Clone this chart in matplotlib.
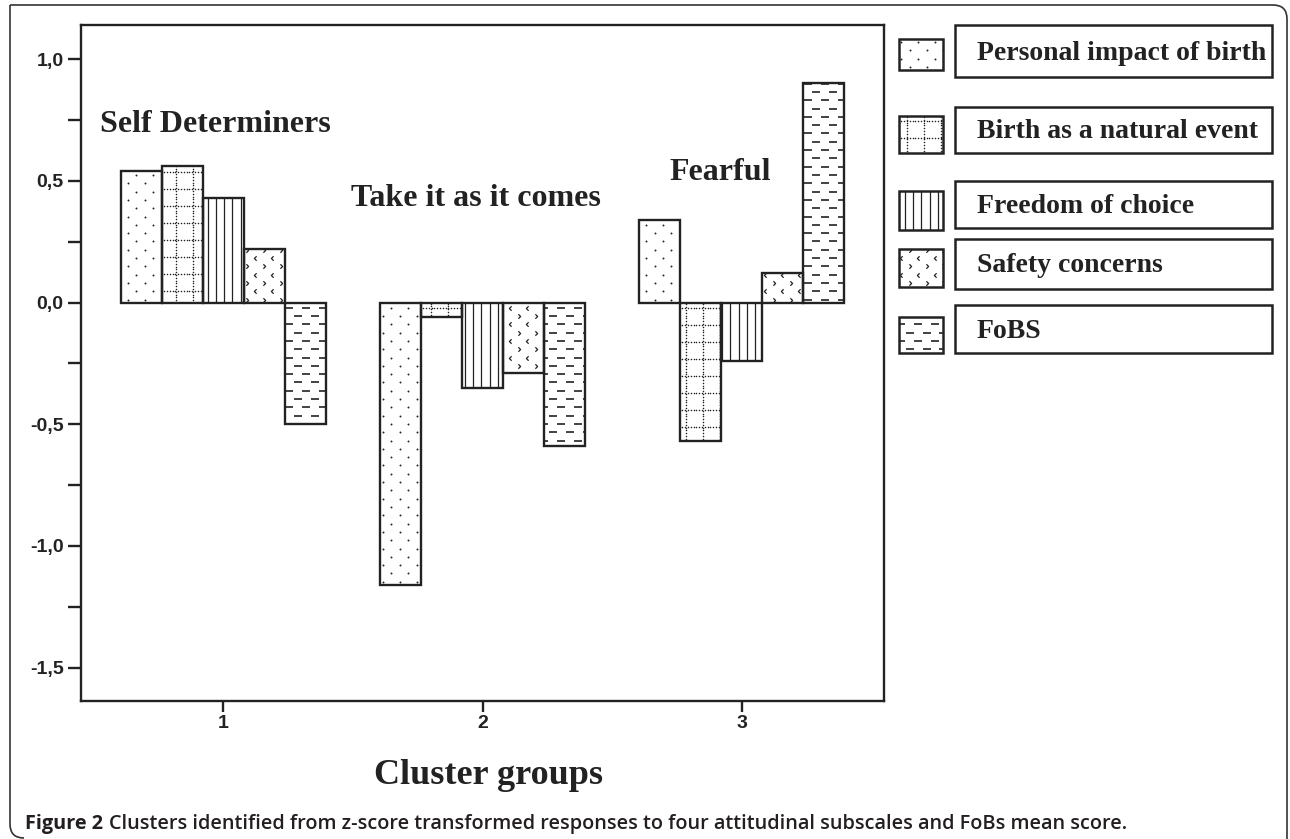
import numpy as np
import matplotlib
matplotlib.use("Agg")
import matplotlib.pyplot as plt
from matplotlib.patches import Rectangle, PathPatch
from matplotlib.path import Path
from matplotlib.lines import Line2D
from matplotlib.collections import LineCollection
from matplotlib.ticker import FixedLocator, MultipleLocator, FuncFormatter

# data
clusters = [1, 2, 3]
cluster_names = ["Self Determiners", "Take it as it comes", "Fearful"]
series = ["Personal impact of birth", "Birth as a natural event",
          "Freedom of choice", "Safety concerns", "FoBS"]
personal = [0.54, -1.16, 0.34]
natural = [0.56, -0.06, -0.57]
freedom = [0.43, -0.35, -0.24]
safety = [0.22, -0.29, 0.12]
fobs = [-0.50, -0.59, 0.90]
values = [personal, natural, freedom, safety, fobs]
textures = ["dots", "dotgrid", "vlines", "chevrons", "dashes"]

caption_bold = "Figure 2"
caption_rest = ("Clusters identified from z-score transformed responses to four "
                "attitudinal subscales and FoBs mean score.")

W, H = 1290, 839
INK = "#222222"
SERIF = "Liberation Serif"
SANS = "Liberation Sans"

fig = plt.figure(figsize=(W / 100, H / 100), dpi=100)
fig.patch.set_facecolor("white")


def fx(x):
    return x / W


def fy(y):
    # image pixel row -> figure fraction
    return 1 - y / H


ax = fig.add_axes([fx(81), fy(701), fx(884 - 81), (701 - 25) / H])
ax.set_xlim(0.45, 3.55)
ax.set_ylim(-1.637, 1.14)
ax.set_autoscale_on(False)

# chevron markers
LT = Path([(0.5, 1), (-0.5, 0), (0.5, -1)], [Path.MOVETO, Path.LINETO, Path.LINETO])
GT = Path([(-0.5, 1), (0.5, 0), (-0.5, -1)], [Path.MOVETO, Path.LINETO, Path.LINETO])


def add_texture(target, patch, kind):
    # fill the patch with a pixel-aligned pattern, clipped to the patch
    bb = patch.get_window_extent()
    x0, x1, y0, y1 = bb.x0 - 20, bb.x1 + 20, bb.y0 - 20, bb.y1 + 20
    dx, dy = 17.0, 8.3
    arts = []
    if kind in ("dots", "chevrons", "dashes"):
        rows = np.arange(np.floor(y0 / dy), np.ceil(y1 / dy) + 1)
        for j in rows:
            xs = np.arange(np.floor(x0 / dx), np.ceil(x1 / dx) + 1) * dx + (j % 2) * dx / 2
            ys = np.full_like(xs, j * dy)
            if kind == "dots":
                kw = dict(marker="o", ms=1.4, mfc=INK, mec="none")
            elif kind == "dashes":
                kw = dict(marker="_", ms=5.5, mew=1.2, mec=INK)
            else:
                kw = dict(marker=LT if j % 2 == 0 else GT, ms=3.2, mew=0.9,
                          mec=INK, mfc="none")
            arts.append(Line2D(xs / W, ys / H, ls="none", transform=fig.transFigure, **kw))
    elif kind == "dotgrid":
        g = 17.0
        step = 2.8
        xs_l = np.arange(np.floor(x0 / g), np.ceil(x1 / g) + 1) * g + 6
        ys_l = np.arange(np.floor(y0 / g), np.ceil(y1 / g) + 1) * g + 4
        pts = []
        for xv in xs_l:
            yy = np.arange(y0, y1, step)
            pts.append(np.column_stack([np.full_like(yy, xv), yy]))
        for yv in ys_l:
            xx = np.arange(x0, x1, step)
            pts.append(np.column_stack([xx, np.full_like(xx, yv)]))
        pts = np.vstack(pts)
        arts.append(Line2D(pts[:, 0] / W, pts[:, 1] / H, ls="none", marker="o", ms=1.1,
                           mfc=INK, mec="none", transform=fig.transFigure))
    elif kind == "vlines":
        sp = 8.3
        xs = np.arange(np.floor(x0 / sp), np.ceil(x1 / sp) + 1) * sp
        segs = [[(xv / W, y0 / H), (xv / W, y1 / H)] for xv in xs]
        arts.append(LineCollection(segs, colors=INK, linewidths=0.9,
                                   transform=fig.transFigure))
    for a in arts:
        a.set_zorder(1.5)
        if target is fig:
            fig.add_artist(a)
        elif isinstance(a, LineCollection):
            target.add_collection(a)
        else:
            target.add_line(a)
        a.set_clip_path(patch)


width = 0.1586
x = np.array(clusters, dtype=float)
for i, (vals, kind) in enumerate(zip(values, textures)):
    pos = x + (i - 2) * width
    fills = ax.bar(pos, vals, width, color="white", edgecolor="none", zorder=1)
    for p in fills.patches:
        add_texture(ax, p, kind)
    ax.bar(pos, vals, width, facecolor="none", edgecolor=INK, linewidth=1.7, zorder=2)

# cluster names
name_pos = [(0.97, 0.70), (1.975, 0.395), (2.916, 0.503)]
for name, (tx, ty) in zip(cluster_names, name_pos):
    ax.text(tx, ty, name, ha="center", va="baseline", fontsize=23,
            fontweight="bold", family=SERIF, color=INK)

# axes styling
for s in ax.spines.values():
    s.set_linewidth(1.7)
    s.set_color(INK)
ax.yaxis.set_major_locator(MultipleLocator(0.5))
ax.yaxis.set_minor_locator(MultipleLocator(0.25))
ax.yaxis.set_major_formatter(FuncFormatter(lambda v, p: f"{v:.1f}".replace(".", ",")))
ax.xaxis.set_major_locator(FixedLocator(clusters))
ax.set_xticklabels([str(c) for c in clusters])
ax.tick_params(axis="y", which="both", direction="out", length=9.5, width=1.7, color=INK, pad=3)
ax.tick_params(axis="x", which="both", direction="out", length=8, width=1.7, color=INK, pad=2)
ax.xaxis.set_minor_locator(FixedLocator([]))
for lab in ax.get_xticklabels() + ax.get_yticklabels():
    lab.set_fontfamily(SANS)
    lab.set_fontweight("bold")
    lab.set_fontsize(14)
    lab.set_color(INK)

fig.text(fx(488), fy(776), "Cluster groups", ha="center", va="center",
         fontsize=26, fontweight="bold", family=SERIF, color=INK)

# legend: swatch box + framed label box per series
sw_rows = [(39, 70), (116, 153), (191, 230), (249, 287), (317, 353)]
lb_rows = [(25, 77), (107, 153), (181, 228), (239, 289), (305, 353)]
for name, kind, (st, sb), (lt, lb) in zip(series, textures, sw_rows, lb_rows):
    sw = Rectangle((fx(899), fy(sb)), fx(943 - 899), (sb - st) / H,
                   transform=fig.transFigure, facecolor="white", edgecolor="none", zorder=1)
    fig.add_artist(sw)
    add_texture(fig, sw, kind)
    fig.add_artist(Rectangle((fx(899), fy(sb)), fx(943 - 899), (sb - st) / H,
                             transform=fig.transFigure, facecolor="none", edgecolor=INK,
                             linewidth=1.8, zorder=2))
    fig.add_artist(Rectangle((fx(955), fy(lb)), fx(1272 - 955), (lb - lt) / H,
                             transform=fig.transFigure, facecolor="none", edgecolor=INK,
                             linewidth=1.8, zorder=2))
    fig.text(fx(977), fy((lt + lb) / 2 + 2), name, ha="left", va="center", fontsize=20,
             fontweight="bold", family=SERIF, color=INK)

# outer frame with rounded top-right and bottom-left corners
r = 14
L, R, T, B = 10, 1287, 5, 838
verts = [(L, T), (R - r, T), (R, T), (R, T + r), (R, B + 20), (R, B + 20),
         (L + r, B), (L, B), (L, B - r), (L, T)]
codes = [Path.MOVETO, Path.LINETO, Path.CURVE3, Path.CURVE3, Path.LINETO,
         Path.MOVETO, Path.MOVETO, Path.CURVE3, Path.CURVE3, Path.LINETO]
frame = PathPatch(Path([(fx(a), fy(b)) for a, b in verts], codes),
                  transform=fig.transFigure, facecolor="none", edgecolor="#333333",
                  linewidth=1.2)
fig.add_artist(frame)

t1 = fig.text(fx(25), fy(829), caption_bold, ha="left", va="baseline", fontsize=14.3,
              fontweight="bold", family="Open Sans", color="#231f20")
plt.annotate(caption_rest, xy=(1, 0), xycoords=t1, xytext=(4, 0), textcoords="offset points",
             ha="left", va="bottom", fontsize=14.3, fontweight="semibold",
             family="Open Sans", color="#231f20", annotation_clip=False)

fig.savefig("out.png", dpi=100)
